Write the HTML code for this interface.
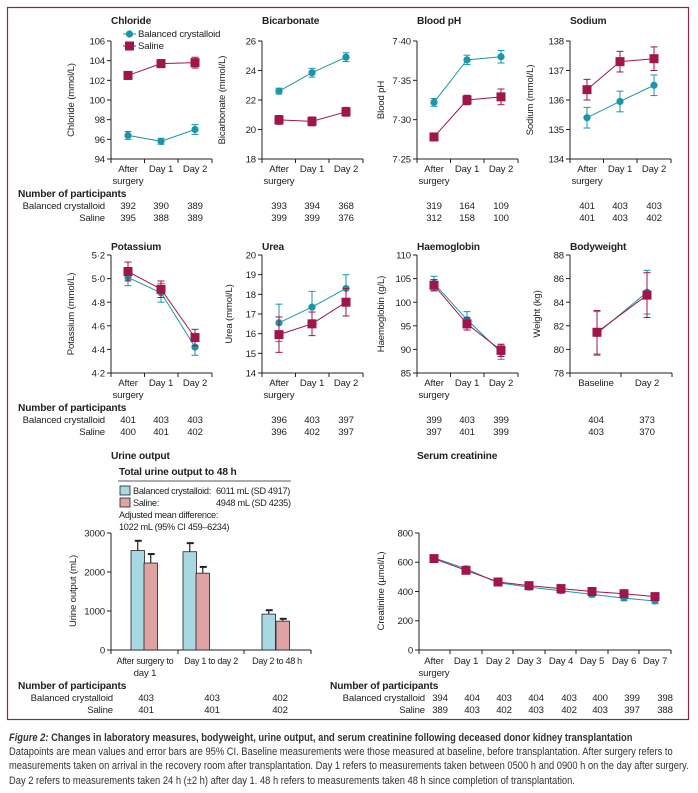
<!DOCTYPE html>
<html><head><meta charset="utf-8"><style>
html,body{margin:0;padding:0;background:#fff;width:698px;height:793px;overflow:hidden}
svg{display:block;font-family:"Liberation Sans Narrow","Liberation Sans",sans-serif;font-size:9.6px;fill:#222;letter-spacing:-0.15px}
.t{font-weight:bold;font-size:10.2px}
.r{text-anchor:end}.m{text-anchor:middle}
.cap{position:absolute;left:9px;top:731px;width:808px;transform:scaleX(0.85);transform-origin:0 0;font-family:"Liberation Sans",sans-serif;font-size:11px;line-height:14.2px;color:#333}
</style></head><body>
<svg id="s" width="698" height="725" viewBox="0 0 698 725" style="position:absolute;left:0;top:0">
<rect x="7.5" y="7.5" width="681" height="712" fill="none" stroke="#8b2942" stroke-width="1.2"/>
<g id="g"></g>
<text class="t" x="111" y="24">Chloride</text>
<text class="t" x="262" y="24">Bicarbonate</text>
<text class="t" x="417" y="24">Blood pH</text>
<text class="t" x="570" y="24">Sodium</text>
<text class="t" x="111" y="250">Potassium</text>
<text class="t" x="262" y="250">Urea</text>
<text class="t" x="417" y="250">Haemoglobin</text>
<text class="t" x="570" y="250">Bodyweight</text>
<text class="t" x="111" y="459">Urine output</text>
<text class="t" x="417" y="459">Serum creatinine</text>
<text x="138" y="37">Balanced crystalloid</text>
<text x="138" y="49">Saline</text>
<text class="m" transform="translate(74,100) rotate(-90)">Chloride (mmol/L)</text>
<text class="m" transform="translate(225,100) rotate(-90)">Bicarbonate (mmol/L)</text>
<text class="m" transform="translate(384,100) rotate(-90)">Blood pH</text>
<text class="m" transform="translate(533,100) rotate(-90)">Sodium (mmol/L)</text>
<text class="m" transform="translate(74,314) rotate(-90)">Potassium (mmol/L)</text>
<text class="m" transform="translate(232,314) rotate(-90)">Urea (mmol/L)</text>
<text class="m" transform="translate(384,314) rotate(-90)">Haemoglobin (g/L)</text>
<text class="m" transform="translate(540,314) rotate(-90)">Weight (kg)</text>
<text class="m" transform="translate(76,591) rotate(-90)">Urine output (mL)</text>
<text class="m" transform="translate(384,591) rotate(-90)">Creatinine (µmol/L)</text>
<g class="r">
<text x="105" y="44.5">106</text><text x="105" y="64">104</text><text x="105" y="84">102</text><text x="105" y="103.5">100</text><text x="105" y="123">98</text><text x="105" y="143">96</text><text x="105" y="162.5">94</text>
<text x="256" y="44.5">26</text><text x="256" y="74">24</text><text x="256" y="103.5">22</text><text x="256" y="133">20</text><text x="256" y="162.5">18</text>
<text x="411" y="44.5">7·40</text><text x="411" y="84">7·35</text><text x="411" y="123">7·30</text><text x="411" y="162.5">7·25</text>
<text x="564" y="44.5">138</text><text x="564" y="74">137</text><text x="564" y="103.5">136</text><text x="564" y="133">135</text><text x="564" y="162.5">134</text>
<text x="105" y="258.5">5·2</text><text x="105" y="282">5·0</text><text x="105" y="306">4·8</text><text x="105" y="329.5">4·6</text><text x="105" y="353">4·4</text><text x="105" y="376.5">4·2</text>
<text x="256" y="258.5">20</text><text x="256" y="278">19</text><text x="256" y="298">18</text><text x="256" y="317.5">17</text><text x="256" y="337">16</text><text x="256" y="357">15</text><text x="256" y="376.5">14</text>
<text x="411" y="258.5">110</text><text x="411" y="282">105</text><text x="411" y="306">100</text><text x="411" y="329.5">95</text><text x="411" y="353">90</text><text x="411" y="376.5">85</text>
<text x="564" y="258.5">88</text><text x="564" y="282">86</text><text x="564" y="306">84</text><text x="564" y="329.5">82</text><text x="564" y="353">80</text><text x="564" y="376.5">78</text>
<text x="105" y="536.5">3000</text><text x="105" y="575.5">2000</text><text x="105" y="614.5">1000</text><text x="105" y="653.5">0</text>
<text x="413" y="536.5">800</text><text x="413" y="565.5">600</text><text x="413" y="595">400</text><text x="413" y="624">200</text><text x="413" y="653.5">0</text>
</g>
<g class="m">
<text x="128" y="172">After</text><text x="128" y="184">surgery</text><text x="161" y="172">Day 1</text><text x="195" y="172">Day 2</text>
<text x="279" y="172">After</text><text x="279" y="184">surgery</text><text x="312" y="172">Day 1</text><text x="346" y="172">Day 2</text>
<text x="434" y="172">After</text><text x="434" y="184">surgery</text><text x="467" y="172">Day 1</text><text x="501" y="172">Day 2</text>
<text x="587" y="172">After</text><text x="587" y="184">surgery</text><text x="620" y="172">Day 1</text><text x="654" y="172">Day 2</text>
<text x="128" y="386">After</text><text x="128" y="398">surgery</text><text x="161" y="386">Day 1</text><text x="195" y="386">Day 2</text>
<text x="279" y="386">After</text><text x="279" y="398">surgery</text><text x="312" y="386">Day 1</text><text x="346" y="386">Day 2</text>
<text x="434" y="386">After</text><text x="434" y="398">surgery</text><text x="467" y="386">Day 1</text><text x="501" y="386">Day 2</text>
<text x="596" y="386">Baseline</text><text x="647" y="386">Day 2</text>
<text x="145" y="664" style="font-size:9px;letter-spacing:-0.3px">After surgery to</text><text x="145" y="676">day 1</text><text x="211" y="664" style="font-size:9px;letter-spacing:-0.3px">Day 1 to day 2</text><text x="277" y="664" style="font-size:9px;letter-spacing:-0.3px">Day 2 to 48 h</text>
<text x="434" y="664">After</text><text x="434" y="676">surgery</text><text x="466" y="664">Day 1</text><text x="498" y="664">Day 2</text><text x="529" y="664">Day 3</text><text x="561" y="664">Day 4</text><text x="592" y="664">Day 5</text><text x="624" y="664">Day 6</text><text x="655" y="664">Day 7</text>
</g>
<g>
<text class="t" x="18" y="197">Number of participants</text>
<text class="r" x="105" y="209">Balanced crystalloid</text><text class="r" x="105" y="221">Saline</text>
<text class="t" x="18" y="411">Number of participants</text>
<text class="r" x="105" y="423">Balanced crystalloid</text><text class="r" x="105" y="435">Saline</text>
<text class="t" x="18" y="689">Number of participants</text>
<text class="r" x="113" y="701">Balanced crystalloid</text><text class="r" x="113" y="713">Saline</text>
<text class="t" x="330" y="689">Number of participants</text>
<text class="r" x="425" y="701">Balanced crystalloid</text><text class="r" x="425" y="713">Saline</text>
</g>
<g class="m">
<text x="128" y="209">392</text><text x="161" y="209">390</text><text x="195" y="209">389</text>
<text x="128" y="221">395</text><text x="161" y="221">388</text><text x="195" y="221">389</text>
<text x="279" y="209">393</text><text x="312" y="209">394</text><text x="346" y="209">368</text>
<text x="279" y="221">399</text><text x="312" y="221">399</text><text x="346" y="221">376</text>
<text x="434" y="209">319</text><text x="467" y="209">164</text><text x="501" y="209">109</text>
<text x="434" y="221">312</text><text x="467" y="221">158</text><text x="501" y="221">100</text>
<text x="587" y="209">401</text><text x="620" y="209">403</text><text x="654" y="209">403</text>
<text x="587" y="221">401</text><text x="620" y="221">403</text><text x="654" y="221">402</text>
<text x="128" y="423">401</text><text x="161" y="423">403</text><text x="195" y="423">403</text>
<text x="128" y="435">400</text><text x="161" y="435">401</text><text x="195" y="435">402</text>
<text x="279" y="423">396</text><text x="312" y="423">403</text><text x="346" y="423">397</text>
<text x="279" y="435">396</text><text x="312" y="435">402</text><text x="346" y="435">397</text>
<text x="434" y="423">399</text><text x="467" y="423">403</text><text x="501" y="423">399</text>
<text x="434" y="435">397</text><text x="467" y="435">401</text><text x="501" y="435">399</text>
<text x="596" y="423">404</text><text x="647" y="423">373</text>
<text x="596" y="435">403</text><text x="647" y="435">370</text>
<text x="146" y="701">403</text><text x="212" y="701">403</text><text x="280" y="701">402</text>
<text x="146" y="713">401</text><text x="212" y="713">401</text><text x="280" y="713">402</text>
<text x="440" y="701">394</text><text x="472" y="701">404</text><text x="504" y="701">403</text><text x="536" y="701">404</text><text x="569" y="701">403</text><text x="600" y="701">400</text><text x="632" y="701">399</text><text x="665" y="701">398</text>
<text x="440" y="713">389</text><text x="472" y="713">403</text><text x="504" y="713">402</text><text x="536" y="713">403</text><text x="569" y="713">402</text><text x="600" y="713">403</text><text x="632" y="713">397</text><text x="665" y="713">388</text>
</g>
<text class="t" x="119" y="475">Total urine output to 48 h</text>
<line x1="118" y1="481" x2="291" y2="481" stroke="#222" stroke-width="0.8"/>
<rect x="120" y="486" width="10" height="9" fill="#a8d8e2" stroke="#222" stroke-width="0.8"/>
<rect x="120" y="498" width="10" height="9" fill="#e0a3a3" stroke="#222" stroke-width="0.8"/>
<g style="font-size:9.2px;letter-spacing:-0.3px">
<text x="133" y="494">Balanced crystalloid:</text><text x="216" y="494">6011 mL (SD 4917)</text>
<text x="133" y="506">Saline:</text><text x="216" y="506">4948 mL (SD 4235)</text>
<text x="119" y="518">Adjusted mean difference:</text>
<text x="119" y="530">1022 mL (95% CI 459–6234)</text>
</g>
</svg>
<div class="cap"><b><i>Figure 2:</i> Changes in laboratory measures, bodyweight, urine output, and serum creatinine following deceased donor kidney transplantation</b><br>Datapoints are mean values and error bars are 95% CI. Baseline measurements were those measured at baseline, before transplantation. After surgery refers to<br>measurements taken on arrival in the recovery room after transplantation. Day 1 refers to measurements taken between 0500 h and 0900 h on the day after surgery.<br>Day 2 refers to measurements taken 24 h (±2 h) after day 1. 48 h refers to measurements taken 48 h since completion of transplantation.</div>
<script>
var g=document.getElementById('g'),NS='http://www.w3.org/2000/svg';
function el(t,a){var e=document.createElementNS(NS,t);for(var k in a)e.setAttribute(k,a[k]);g.appendChild(e);return e;}
function L(x1,y1,x2,y2,c,w){el('line',{x1:x1,y1:y1,x2:x2,y2:y2,stroke:c||'#222','stroke-width':w||1});}
var T='#1b96a8',S='#a0154a';
function axes(ax,top,bot,nY,xt){L(ax,top,ax,bot);L(ax,bot,xt[xt.length-1],bot);
 for(var i=0;i<nY;i++){var y=top+(bot-top)*i/(nY-1);L(ax-4,y,ax,y);}
 xt.forEach(function(x){L(x,bot,x,bot+4);});}
function series(xs,vals,errs,min,max,top,bot,col,sq){
 var f=function(v){return bot-(v-min)/(max-min)*(bot-top);};
 var p=xs.map(function(x,i){return x+','+f(vals[i]);}).join(' ');
 el('polyline',{points:p,fill:'none',stroke:col,'stroke-width':1});
 xs.forEach(function(x,i){var a=f(vals[i]-errs[i]),b=f(vals[i]+errs[i]);L(x,a,x,b,col,1);L(x-3.5,a,x+3.5,a,col,1);L(x-3.5,b,x+3.5,b,col,1);
  if(sq)el('rect',{x:x-4.5,y:f(vals[i])-4.5,width:9,height:9,fill:col});else el('circle',{cx:x,cy:f(vals[i]),r:3.6,fill:col});});}
function panel(ax,top,bot,nY,min,max,B,Be,Sv,Se){
 var xt=[ax,ax+33.5,ax+67,ax+101];axes(ax,top,bot,nY,xt);var xs=[ax+17,ax+50,ax+84];
 series(xs,B,Be,min,max,top,bot,T,0);series(xs,Sv,Se,min,max,top,bot,S,1);}
panel(111,41,159,7,94,106,[96.4,95.8,97.0],[.4,.3,.5],[102.5,103.7,103.8],[.4,.4,.55]);
panel(262,41,159,5,18,26,[22.6,23.85,24.9],[.2,.3,.3],[20.65,20.55,21.2],[.3,.3,.3]);
panel(417,41,159,4,7.25,7.40,[7.322,7.376,7.380],[.005,.006,.008],[7.278,7.325,7.329],[.004,.006,.010]);
panel(570,41,159,5,134,138,[135.4,135.95,136.5],[.35,.35,.35],[136.35,137.3,137.4],[.35,.35,.4]);
panel(111,255,373,6,4.2,5.2,[5.01,4.88,4.42],[.07,.08,.07],[5.06,4.91,4.50],[.08,.07,.07]);
panel(262,255,373,7,14,20,[16.55,17.35,18.3],[.95,.8,.7],[15.95,16.5,17.6],[.9,.6,.7]);
panel(417,255,373,6,85,110,[104,96.3,89.4],[1.5,1.7,1.5],[103.6,95.4,89.8],[1.2,1.3,1.3]);
(function(){var ax=570,top=255,bot=373;axes(ax,top,bot,6,[570,621,672]);var xs=[597,647];
 series(xs,[81.35,84.85],[1.85,1.85],78,88,top,bot,T,0);series(xs,[81.45,84.6],[1.85,1.9],78,88,top,bot,S,1);})();
(function(){var ax=111,top=533,bot=650;axes(ax,top,bot,4,[111,178,244,311]);
 var f=function(v){return bot-v/3000*(bot-top);};
 var B=[[131,2550,2800],[183,2520,2740],[262,920,1020]],P=[[144,2230,2460],[196,1970,2130],[276,740,800]];
 [[B,'#a8d8e2'],[P,'#e0a3a3']].forEach(function(s){s[0].forEach(function(d){
  el('rect',{x:d[0],y:f(d[1]),width:13.5,height:bot-f(d[1]),fill:s[1],stroke:'#222','stroke-width':0.8});
  var cx=d[0]+6.75;L(cx,f(d[1]),cx,f(d[2]),'#222',1.2);L(cx-3,f(d[2]),cx+4,f(d[2]),'#222',2);});});})();
(function(){var ax=419,top=533,bot=650;var xt=[419,450,482,513,545,576,608,639,671];axes(ax,top,bot,5,xt);
 var xs=[434,466,498,529,561,592,624,655];
 series(xs,[630,555,460,430,405,380,355,335],[18,15,15,18,18,18,18,18],0,800,top,bot,T,0);
 series(xs,[625,545,465,440,420,400,385,365],[18,15,15,18,18,18,18,18],0,800,top,bot,S,1);})();
L(123,34,136,34,T);el('circle',{cx:129.5,cy:34,r:3.6,fill:T});
L(123,46,136,46,S);el('rect',{x:125,y:41.5,width:9,height:9,fill:S});
</script>
</body></html>
